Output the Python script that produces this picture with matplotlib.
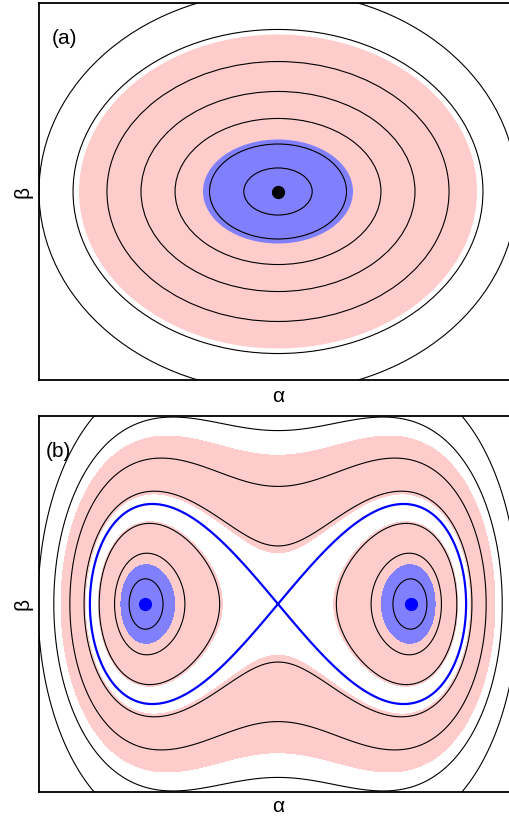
import numpy as np
import matplotlib
matplotlib.use("Agg")
import matplotlib.pyplot as plt
from matplotlib.patches import Ellipse

plt.rcParams["font.family"] = ["Liberation Sans", "DejaVu Sans"]

# ---- panel (a): single well, orbit semi-axes ----
orbit_a = [0.257, 0.515, 0.774, 1.030, 1.286, 1.541, 1.797]   # along alpha
orbit_b = [0.177, 0.357, 0.549, 0.752, 0.977, 1.218, 1.504]   # along beta
pink_a, pink_b = 1.496, 1.180      # outer edge of pink band
blue_a, blue_b = 0.564, 0.391      # edge of blue core
centre_a = (0.0, 0.0)

# ---- panel (b): double well (Kerr parametric type) ----
well_alpha = [-1.0, 1.0]
well_beta = [0.0, 0.0]
inner_levels = [-0.234, -0.185, -0.087]          # orbits inside each well
outer_levels = [0.067, 0.275, 0.598, 1.025]      # orbits around both wells
separatrix_level = [0.0]
blue_band = [-0.211]          # H below this -> blue
pink_well = [-0.08]           # H below this -> pink (inside wells)
pink_outer = [0.052, 0.44]    # pink band around both wells

xlim = (-1.797, 1.797)
ylim = (-1.417, 1.417)

PINK = "#ffcccc"
BLUE_FILL = "#8080ff"

W, Hpx = 509, 819
fig = plt.figure(figsize=(W / 100, Hpx / 100), dpi=100)
ax_a = fig.add_axes([39 / W, (Hpx - 380) / Hpx, 478 / W, 377 / Hpx])
ax_b = fig.add_axes([39 / W, (Hpx - 792) / Hpx, 478 / W, 376 / Hpx])

# panel (a)
ax_a.add_patch(Ellipse((0, 0), 2 * pink_a, 2 * pink_b, fc=PINK, ec="none"))
ax_a.add_patch(Ellipse((0, 0), 2 * blue_a, 2 * blue_b, fc=BLUE_FILL, ec="none"))
for a, b in zip(orbit_a, orbit_b):
    ax_a.add_patch(Ellipse((0, 0), 2 * a, 2 * b, fill=False, ec="black", lw=0.8))
ax_a.plot(*centre_a, "o", color="black", ms=8.5)

# panel (b)
al = np.linspace(-1.8, 1.8, 901)
be = np.linspace(-1.42, 1.42, 711)
A, B = np.meshgrid(al, be)
H = 0.35 * B**2 + 0.095 * A**2 * B**2 + A**4 / 4 - A**2 / 2

ax_b.contourf(A, B, H, levels=[H.min() - 1, pink_well[0]], colors=[PINK])
ax_b.contourf(A, B, H, levels=pink_outer, colors=[PINK])
ax_b.contourf(A, B, H, levels=[H.min() - 1, blue_band[0]], colors=[BLUE_FILL])
ax_b.contour(A, B, H, levels=inner_levels + outer_levels, colors="black",
             linewidths=0.8, linestyles="solid")
ax_b.contour(A, B, H, levels=separatrix_level, colors="#0000ff", linewidths=1.6,
             linestyles="solid")
ax_b.plot(well_alpha, well_beta, "o", color="#0000ff", ms=8.5, ls="none")

for ax in (ax_a, ax_b):
    ax.set_xlim(*xlim)
    ax.set_ylim(*ylim)
    ax.set_xticks([])
    ax.set_yticks([])
    for s in ax.spines.values():
        s.set_linewidth(1.3)

fs = 15
fig.text(278 / W, 1 - 396 / Hpx, "α", ha="center", va="center", fontsize=fs)
fig.text(278 / W, 1 - 807 / Hpx, "α", ha="center", va="center", fontsize=fs)
fig.text(23 / W, 1 - 192 / Hpx, "β", ha="center", va="center", rotation=90, fontsize=fs)
fig.text(23 / W, 1 - 604 / Hpx, "β", ha="center", va="center", rotation=90, fontsize=fs)
fig.text(52 / W, 1 - 39 / Hpx, "(a)", ha="left", va="center", fontsize=fs)
fig.text(46 / W, 1 - 451 / Hpx, "(b)", ha="left", va="center", fontsize=fs)

fig.savefig("out.png", dpi=100)
